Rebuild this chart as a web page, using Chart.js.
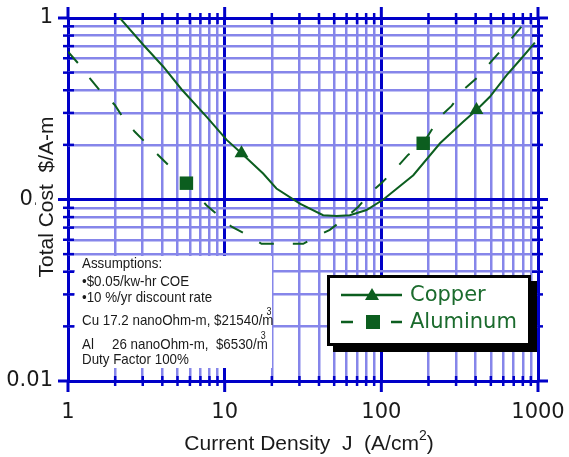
<!DOCTYPE html>
<html>
<head>
<meta charset="utf-8">
<script src="https://cdn.jsdelivr.net/npm/chart.js@4.4.1/dist/chart.umd.min.js"></script>
<style>
  html, body { margin: 0; padding: 0; background: #fff; }
  #wrap { width: 569px; height: 457px; }
</style>
</head>
<body>
<div id="wrap"><canvas id="cost-chart" width="569" height="457"></canvas></div>
<script>
// Current density J (A/cm^2) vs total cost ($/A-m)
const copperJ    = [2.1, 3.03, 4.06, 5.3, 7.65, 10.3, 12.8, 17.6, 21.4, 30.2, 42.5, 51.7, 62.9, 80.4, 103, 160, 237, 333, 405, 493, 631, 785, 955];
const copperCost = [1.02, 0.71, 0.539, 0.405, 0.286, 0.213, 0.180, 0.139, 0.115, 0.095, 0.082, 0.081, 0.082, 0.0875, 0.100, 0.136, 0.204, 0.268, 0.311, 0.368, 0.485, 0.600, 0.731];

const aluminumJ    = [1.0, 1.16, 1.38, 1.59, 1.99, 2.19, 2.67, 3.09, 3.76, 4.46, 5.7, 7.65, 9.08, 11.0, 13.8, 17.2, 20.9, 26, 31.7, 40.5, 46.9, 59.9, 71.1, 84.5, 100, 122, 148, 185, 237, 281, 333, 405, 481, 571, 678, 785, 910];
const aluminumCost = [0.652, 0.563, 0.465, 0.401, 0.332, 0.292, 0.236, 0.208, 0.176, 0.152, 0.123, 0.093, 0.082, 0.071, 0.064, 0.057, 0.057, 0.057, 0.057, 0.064, 0.068, 0.080, 0.091, 0.108, 0.123, 0.146, 0.176, 0.204, 0.286, 0.328, 0.401, 0.465, 0.551, 0.652, 0.773, 0.896, 1.0];

// J values that carry a marker
const copperMarkers = [12.8, 405];
const aluminumMarkers = [5.7, 185];

const xMajorTicks = [1, 10, 100, 1000];
const xTickLabels = ['1', '10', '100', '1000'];
const yMajorTicks = [0.01, 0.1, 1];
const yTickLabels = ['0.01', '0.1', '1'];

const seriesNames = ['Copper', 'Aluminum'];
const assumptions = [
    'Assumptions:',
    '\u2022$0.05/kw-hr COE',
    '\u202210 %/yr discount rate',
    'Cu 17.2 nanoOhm-m, $21540/m',
    'Al',
    'Duty Factor 100%'
];
const alRest = '26 nanoOhm-m,  $6530/m';

const DARK = '#0000c8';
const LIGHT = '#8686ea';
const GREEN = '#0c5e1f';
const TEXT_GREEN = '#1b6b2d';

const isMajor = v => Math.abs(Math.log10(v) - Math.round(Math.log10(v))) < 1e-6;

function withMinors(majors) {
    const out = [];
    majors.forEach((m, i) => {
        out.push(m);
        if (i < majors.length - 1) {
            for (let k = 2; k < 10; k++) out.push(+(m * k).toPrecision(6));
        }
    });
    return out;
}

function line(ctx, x1, y1, x2, y2) {
    ctx.beginPath();
    ctx.moveTo(x1, y1);
    ctx.lineTo(x2, y2);
    ctx.stroke();
}

// white note box, tick marks and extended major lines
const framePlugin = {
    id: 'frame',
    beforeDatasetsDraw(chart) {
        const { ctx, chartArea: a, scales: { x, y } } = chart;
        ctx.save();

        // assumptions box
        const bx = a.left + 7, by = 256, bw = 272 - bx, bh = a.bottom - 13 - by;
        ctx.fillStyle = '#fff';
        ctx.fillRect(bx, by, bw, bh);

        ctx.fillStyle = '#1a1a1a';
        ctx.font = '15px "Liberation Sans", Arial, sans-serif';
        const sx = 0.89;
        const put = (txt, tx, ty, size) => {
            ctx.save();
            ctx.translate(tx, ty);
            ctx.scale(sx, 1);
            if (size) ctx.font = size + 'px "Liberation Sans", Arial, sans-serif';
            ctx.fillText(txt, 0, 0);
            const w = ctx.measureText(txt).width * sx;
            ctx.restore();
            return w;
        };
        const baselines = [268, 286, 302, 325, 349, 364];
        assumptions.forEach((t, i) => {
            const w = put(t, 82, baselines[i]);
            if (i === 3) put('3', 82 + w - 7, baselines[i] - 10, 10);
        });
        const w2 = put(alRest, 112, baselines[4]);
        put('3', 112 + w2 - 7, baselines[4] - 10, 10);

        // tick marks
        ctx.strokeStyle = DARK;
        x.ticks.forEach(t => {
            const px = x.getPixelForValue(t.value);
            if (isMajor(t.value)) {
                ctx.lineWidth = 3;
                line(ctx, px, a.top - 11, px, a.top);
                line(ctx, px, a.bottom, px, a.bottom + 11);
            } else {
                ctx.lineWidth = 2.5;
                line(ctx, px, a.top - 5, px, a.top + 6);
                line(ctx, px, a.bottom - 5, px, a.bottom + 5);
            }
        });
        y.ticks.forEach(t => {
            const py = y.getPixelForValue(t.value);
            if (isMajor(t.value)) {
                ctx.lineWidth = 3;
                line(ctx, a.left - 10, py, a.left, py);
                line(ctx, a.right, py, a.right + 10, py);
            } else {
                ctx.lineWidth = 2.5;
                line(ctx, a.left - 5, py, a.left + 6, py);
                line(ctx, a.right - 6, py, a.right + 5, py);
            }
        });
        ctx.restore();
    },
    afterDraw(chart) {
        const { ctx } = chart;
        ctx.save();

        // legend with drop shadow
        const lx = 327, ly = 275, lw = 204, lh = 71;
        ctx.fillStyle = '#000';
        ctx.fillRect(lx + 6, ly + 6, lw, lh);
        ctx.fillStyle = '#fff';
        ctx.fillRect(lx, ly, lw, lh);
        ctx.strokeStyle = '#000';
        ctx.lineWidth = 3;
        ctx.strokeRect(lx + 1.5, ly + 1.5, lw - 3, lh - 3);

        const rows = [295, 322];
        chart.data.datasets.forEach((ds, i) => {
            const ry = rows[i];
            ctx.strokeStyle = GREEN;
            ctx.lineWidth = 2.5;
            ctx.setLineDash(i === 1 ? [12, 13] : []);
            line(ctx, 341, ry, 402, ry);
            ctx.setLineDash([]);
            ctx.fillStyle = GREEN;
            if (i === 0) {
                ctx.beginPath();
                ctx.moveTo(372, ry - 7);
                ctx.lineTo(379, ry + 5);
                ctx.lineTo(365, ry + 5);
                ctx.closePath();
                ctx.fill();
            } else {
                ctx.fillRect(366, ry - 7, 14, 14);
            }
            ctx.fillStyle = TEXT_GREEN;
            ctx.font = '21px "DejaVu Sans", sans-serif';
            ctx.textBaseline = 'middle';
            ctx.fillText(ds.label, 410, ry + 1);
        });

        // x title
        ctx.fillStyle = '#1a1a1a';
        ctx.textBaseline = 'alphabetic';
        ctx.font = '21px "Liberation Sans", Arial, sans-serif';
        const main = 'Current Density  J  (A/cm';
        const mw = ctx.measureText(main).width;
        ctx.font = '14px "Liberation Sans", Arial, sans-serif';
        const sw = ctx.measureText('2').width;
        ctx.font = '21px "Liberation Sans", Arial, sans-serif';
        const cw = ctx.measureText(')').width;
        const x0 = 309 - (mw + sw + cw) / 2;
        ctx.fillText(main, x0, 450);
        ctx.fillText(')', x0 + mw + sw, 450);
        ctx.font = '14px "Liberation Sans", Arial, sans-serif';
        ctx.fillText('2', x0 + mw, 440);

        // y title, on a white band that hides part of the 0.1 label
        ctx.font = '21px "Liberation Sans", Arial, sans-serif';
        const yt = 'Total Cost  $/A-m';
        const yw = ctx.measureText(yt).width;
        ctx.fillStyle = '#fff';
        ctx.fillRect(36, 197 - yw / 2 - 2, 19, yw + 4);
        ctx.translate(53, 197);
        ctx.rotate(-Math.PI / 2);
        ctx.fillStyle = '#1a1a1a';
        ctx.textAlign = 'center';
        ctx.fillText(yt, 0, 0);

        ctx.restore();
    }
};

const pts = (xs, ys) => xs.map((v, i) => ({ x: v, y: ys[i] }));

const config = {
    type: 'line',
    data: {
        datasets: [{
            label: seriesNames[0],
            data: pts(copperJ, copperCost),
            borderColor: GREEN,
            borderWidth: 2,
            pointStyle: 'triangle',
            pointRadius: c => copperMarkers.includes(c.raw.x) ? 8 : 0,
            pointBackgroundColor: GREEN,
            pointBorderWidth: 0,
            tension: 0
        }, {
            label: seriesNames[1],
            data: pts(aluminumJ, aluminumCost),
            borderColor: GREEN,
            borderWidth: 2,
            borderDash: [15, 19],
            pointStyle: 'rect',
            pointRadius: c => aluminumMarkers.includes(c.raw.x) ? 9.5 : 0,
            pointBackgroundColor: GREEN,
            pointBorderWidth: 0,
            tension: 0
        }]
    },
    options: {
        responsive: false,
        animation: false,
        layout: { padding: { top: 18, right: 31, left: 0, bottom: 0 } },
        plugins: {
            legend: { display: false },
            tooltip: { enabled: false }
        },
        scales: {
            x: {
                type: 'logarithmic',
                min: 1,
                max: 1000,
                afterBuildTicks: s => { s.ticks = withMinors(xMajorTicks).map(v => ({ value: v })); },
                afterFit: s => { s.height = 76; s.paddingLeft = 0; s.paddingRight = 0; },
                border: { display: false },
                grid: {
                    drawTicks: false,
                    color: c => isMajor(c.tick.value) ? DARK : LIGHT,
                    lineWidth: c => isMajor(c.tick.value) ? 3 : 2.5
                },
                ticks: {
                    autoSkip: false,
                    maxRotation: 0,
                    padding: 19,
                    color: '#1a1a1a',
                    font: { family: '"DejaVu Sans", sans-serif', size: 21 },
                    callback: v => {
                        const i = xMajorTicks.findIndex(m => Math.abs(m - v) < 1e-9);
                        return i >= 0 ? xTickLabels[i] : '';
                    }
                }
            },
            y: {
                type: 'logarithmic',
                min: 0.01,
                max: 1,
                afterBuildTicks: s => { s.ticks = withMinors(yMajorTicks).map(v => ({ value: v })); },
                afterFit: s => { s.width = 68; s.paddingTop = 0; s.paddingBottom = 0; },
                border: { display: false },
                grid: {
                    drawTicks: false,
                    color: c => isMajor(c.tick.value) ? DARK : LIGHT,
                    lineWidth: c => isMajor(c.tick.value) ? 3 : 2.5
                },
                ticks: {
                    autoSkip: false,
                    padding: 15,
                    color: '#1a1a1a',
                    font: { family: '"DejaVu Sans", sans-serif', size: 21 },
                    callback: v => {
                        const i = yMajorTicks.findIndex(m => Math.abs(m - v) < 1e-12);
                        return i >= 0 ? yTickLabels[i] : '';
                    }
                }
            }
        }
    },
    plugins: [framePlugin]
};

new Chart(document.getElementById('cost-chart'), config);
</script>
</body>
</html>
